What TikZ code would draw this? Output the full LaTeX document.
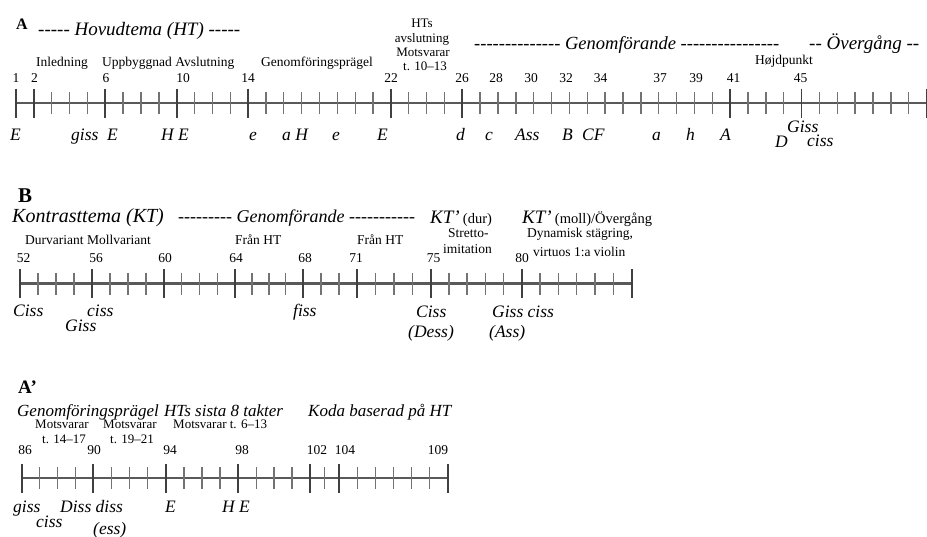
\documentclass[tikz,border=0pt]{standalone}
\usepackage{fontspec}
\setmainfont{Liberation Serif}
% a run of single hyphens (kept apart so they never join into dashes)
\newcommand\dashrun[1]{\foreach\i in {1,...,#1}{\mbox{-}}}
\begin{document}
\begin{tikzpicture}[x=1pt,y=-1pt,
  axisline/.style={line width=2.4pt, black!65},
  majortick/.style={line width=1.8pt, black!75},
  minortick/.style={line width=1.4pt, black!55},
  lbl/.style={inner sep=0pt, anchor=base west, font=\fontsize{13.5}{15}\selectfont},
  lblc/.style={inner sep=0pt, anchor=base, font=\fontsize{13}{14}\selectfont},
  num/.style={inner sep=0pt, anchor=base, font=\fontsize{13.5}{15}\selectfont},
  keyname/.style={inner sep=0pt, anchor=base west, font=\fontsize{17.5}{19}\selectfont\itshape},
  headline/.style={inner sep=0pt, anchor=base west, font=\fontsize{19}{21}\selectfont\itshape},
  headlinesm/.style={inner sep=0pt, anchor=base west, font=\fontsize{17}{19}\selectfont\itshape},
  secmark/.style={inner sep=0pt, anchor=base west}]
\useasboundingbox (0,0) rectangle (927,536);

%================ Section A ================
\node[secmark, font=\bfseries\fontsize{16}{18}\selectfont] (secA) at (16,29) {A};
\node[headline] (hA) at (38,35) {\dashrun{5} Hovudtema (HT) \dashrun{5}};
\node[headline, font=\fontsize{18.5}{21}\selectfont\itshape] (genA) at (474,49) {\dashrun{14} Genomförande \dashrun{16}};
\node[headline] (overA) at (809,49) {\dashrun{2} Övergång \dashrun{2}};

\node[lbl] (inl) at (36,66) {Inledning};
\node[lbl] (upp) at (102,66) {Uppbyggnad Avslutning};
\node[lbl] (gfp) at (261,66) {Genomföringsprägel};
\node[lbl] (hojd) at (755,64) {Højdpunkt};
\node[lblc] (hts1) at (422,27.3) {HTs};
\node[lblc] (hts2) at (422,42.7) {avslutning};
\node[lblc] (hts3) at (423,56.3) {Motsvarar};
\node[lblc] (hts4) at (425,70.5) {t. 10–13};

\foreach \x/\t in {16/1, 34.5/2, 106/6, 183/10, 248/14, 391/22, 462/26, 496/28,
  531/30, 566/32, 600.5/34, 660/37, 696/39, 733.5/41, 800.7/45}
  \node[num] (nA\t) at (\x,82) {\t};

% axis A: bars 1 to 52, evenly spaced
\draw[axisline] (16,103) -- (926.5,103);
\foreach \m in {1,...,52}
  \draw[minortick] ({16+(\m-1)*17.853},92) -- ++(0,22);
\foreach \m in {1,2,6,10,14,22,26,41,45,52}
  \draw[majortick] ({16+(\m-1)*17.853},88.5) -- ++(0,29);

\foreach \x/\t [count=\c] in {10/E, 71/giss, 107/E, 161/H E, 249/e, 282/a H, 332/e,
  377/E, 456/d, 485/c, 515/Ass, 562/B, 582/CF, 652/a, 686/h, 720/A}
  \node[keyname] (kA\c) at (\x,140) {\t};
\node[keyname] (kAgiss) at (787,132) {Giss};
\node[keyname] (kAD) at (775,147) {D};
\node[keyname] (kAciss) at (807,146) {ciss};

%================ Section B ================
\node[secmark, font=\bfseries\fontsize{21}{23}\selectfont] (secB) at (18,202) {B};
\node[headline, font=\fontsize{20}{22}\selectfont\itshape] (hB) at (12,222) {Kontrasttema (KT)};
\node[headline, font=\fontsize{18}{20}\selectfont\itshape] (genB) at (178,222) {\dashrun{9} Genomförande \dashrun{11}};
\node[headline] (ktdur) at (430,223) {KT’\,{\upshape\fontsize{14.5}{16}\selectfont(dur)}};
\node[headline] (ktmoll) at (522,223) {KT’\,{\upshape\fontsize{14.5}{16}\selectfont(moll)/Övergång}};

\node[lbl] (durv) at (25,244) {Durvariant Mollvariant};
\node[lbl] (fran1) at (235,244) {Från HT};
\node[lbl] (fran2) at (357,244) {Från HT};
\node[lbl] (str1) at (448,237) {Stretto-};
\node[lbl] (str2) at (443,253) {imitation};
\node[lbl] (dyn1) at (527,237) {Dynamisk stägring,};
\node[lbl] (dyn2) at (533,256) {virtuos 1:a violin};

\foreach \x/\t in {23.5/52, 96/56, 165/60, 236/64, 305/68, 356/71, 433.5/75, 522/80}
  \node[num] (nB\t) at (\x,262) {\t};

% axis B: bars 52 to 86
\draw[axisline] (20,283.5) -- (631.7,283.5);
\foreach \a/\b/\n in {20/92/4, 92/164/4, 164/235/4, 235/302.7/4, 302.7/357.3/3,
  357.3/430.7/4, 430.7/521.7/5, 521.7/631.7/6} {
  \pgfmathtruncatemacro\last{\n-1}
  \foreach \k in {1,...,\last}
    \draw[minortick] ({\a+\k*(\b-\a)/\n},272.5) -- ++(0,22);
}
\foreach \x in {20,92,164,235,302.7,357.3,430.7,521.7,631.7}
  \draw[majortick] (\x,269) -- ++(0,29);

\node[keyname] (kB1) at (13,316) {Ciss};
\node[keyname] (kB2) at (87,316) {ciss};
\node[keyname] (kB3) at (65,331) {Giss};
\node[keyname] (kB4) at (293,316) {fiss};
\node[keyname] (kB5) at (416,317) {Ciss};
\node[keyname] (kB6) at (408,337) {(Dess)};
\node[keyname] (kB7) at (492,317) {Giss ciss};
\node[keyname] (kB8) at (489,337) {(Ass)};

%================ Section A' ================
\node[secmark, font=\bfseries\fontsize{19}{21}\selectfont] (secA2) at (18,393) {A’};
\node[headlinesm] (gfp2) at (17,416) {Genomföringsprägel};
\node[headlinesm] (sista) at (164,416) {HTs sista 8 takter};
\node[headlinesm] (koda) at (308,416) {Koda baserad på HT};

\node[lbl, font=\fontsize{13}{14}\selectfont] (mv1) at (35,428) {Motsvarar};
\node[lbl, font=\fontsize{13}{14}\selectfont] (mv1t) at (42,443) {t. 14–17};
\node[lbl, font=\fontsize{13}{14}\selectfont] (mv2) at (103,428) {Motsvarar};
\node[lbl, font=\fontsize{13}{14}\selectfont] (mv2t) at (110,443) {t. 19–21};
\node[lbl, font=\fontsize{13}{14}\selectfont] (mv3) at (173,428) {Motsvarar t. 6–13};

\foreach \x/\t in {25/86, 94/90, 170/94, 242/98, 317/102, 345/104, 438/109}
  \node[num] (nC\t) at (\x,454) {\t};

% axis A': bars 86 to 109
\draw[axisline] (21.7,478) -- (447.7,478);
\foreach \a/\b/\n in {21.7/93.3/4, 93.3/165.7/4, 165.7/238.3/4, 238.3/310/4,
  310/339.3/2, 339.3/447.7/6} {
  \pgfmathtruncatemacro\last{\n-1}
  \foreach \k in {1,...,\last}
    \draw[minortick] ({\a+\k*(\b-\a)/\n},467) -- ++(0,22);
}
\foreach \x in {21.7,93.3,165.7,238.3,310,339.3,447.7}
  \draw[majortick] (\x,463.5) -- ++(0,29);

\node[keyname] (kC1) at (13,512) {giss};
\node[keyname] (kC2) at (36,527) {ciss};
\node[keyname] (kC3) at (60,512) {Diss diss};
\node[keyname] (kC4) at (93,534) {(ess)};
\node[keyname] (kC5) at (165,512) {E};
\node[keyname] (kC6) at (222,512) {H E};
\end{tikzpicture}
\end{document}
